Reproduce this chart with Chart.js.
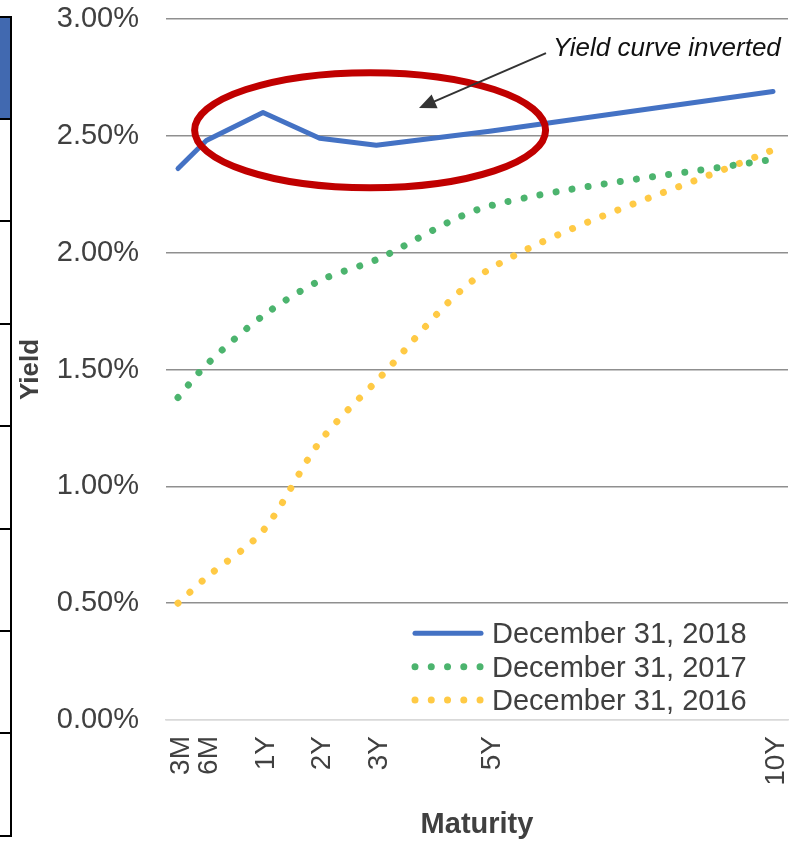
<!DOCTYPE html>
<html>
<head>
<meta charset="utf-8">
<script src="https://cdn.jsdelivr.net/npm/chart.js@4.4.1/dist/chart.umd.min.js"></script>
<style>
  html, body { margin: 0; padding: 0; background: #fff; }
  #wrap { position: relative; width: 798px; height: 842px; overflow: hidden; }
  #yc { position: absolute; left: 0; top: 0; }
  /* edge of the neighbouring table */
  .tbl { position: absolute; left: -10px; top: 16px; width: 18px; height: 817px; border: 2px solid #000; }
  .tbl .head { position: absolute; left: 0; top: 0; width: 100%; height: 101px; background: #4169b0; }
  .tbl .row { position: absolute; left: 0; width: 100%; height: 2px; background: #000; }
</style>
</head>
<body>
<div id="wrap">
  <canvas id="yc" width="798" height="842"></canvas>
  <div class="tbl">
    <div class="head"></div>
    <div class="row" style="top:100px"></div>
    <div class="row" style="top:202px"></div>
    <div class="row" style="top:305px"></div>
    <div class="row" style="top:407px"></div>
    <div class="row" style="top:510px"></div>
    <div class="row" style="top:612px"></div>
    <div class="row" style="top:714px"></div>
  </div>
</div>
<script>
// Treasury yield curves (%), by maturity
const maturityLabels = ['3M', '6M', '1Y', '2Y', '3Y', '5Y', '10Y'];
const maturityPos = [0, 0.5, 1.5, 2.5, 3.5, 5.5, 10.5];
const yield2018 = [2.36, 2.48, 2.60, 2.49, 2.46, 2.52, 2.69];
const yield2017 = [1.38, 1.52, 1.73, 1.88, 1.97, 2.20, 2.40];
const yield2016 = [0.50, 0.61, 0.81, 1.19, 1.45, 1.93, 2.44];
const seriesNames = ['December 31, 2018', 'December 31, 2017', 'December 31, 2016'];
const yTicks = [0, 0.5, 1, 1.5, 2, 2.5, 3];

// callout around the inverted stretch, in axis units
const ring = { x: 3.39, y: 2.524, rx: 3.097, ry: 0.2464 };
const note = { text: 'Yield curve inverted', x: 6.617, y: 2.843 };
const pointer = { fromX: 6.494, fromY: 2.854, toX: 4.253, toY: 2.619 };

const FONT = '"Liberation Sans", Arial, Helvetica, sans-serif';
const INK = '#404040';
const BLUE = '#4472c4', GREEN = '#4cb46e', GOLD = '#ffca45';

const toPoints = ys => ys.map((v, i) => ({ x: maturityPos[i], y: v }));

const overlay = {
  id: 'overlay',
  afterDatasetsDraw(chart) {
    const { ctx, scales: { x, y } } = chart;
    ctx.save();
    // red ring
    const cx = x.getPixelForValue(ring.x), cy = y.getPixelForValue(ring.y);
    const rx = x.getPixelForValue(ring.x + ring.rx) - cx;
    const ry = cy - y.getPixelForValue(ring.y + ring.ry);
    ctx.beginPath();
    ctx.ellipse(cx, cy, rx, ry, 0, 0, Math.PI * 2);
    ctx.strokeStyle = '#c00000';
    ctx.lineWidth = 7;
    ctx.stroke();

    // arrow
    const ax = x.getPixelForValue(pointer.fromX), ay = y.getPixelForValue(pointer.fromY);
    const bx = x.getPixelForValue(pointer.toX), by = y.getPixelForValue(pointer.toY);
    const len = Math.hypot(bx - ax, by - ay);
    const ux = (bx - ax) / len, uy = (by - ay) / len;
    const headL = 17, headW = 7.5;
    const hx = bx - ux * headL, hy = by - uy * headL;
    ctx.strokeStyle = '#333';
    ctx.fillStyle = '#333';
    ctx.lineWidth = 2;
    ctx.beginPath();
    ctx.moveTo(ax, ay);
    ctx.lineTo(hx + ux * 2, hy + uy * 2);
    ctx.stroke();
    ctx.beginPath();
    ctx.moveTo(bx, by);
    ctx.lineTo(hx - uy * headW, hy + ux * headW);
    ctx.lineTo(hx + uy * headW, hy - ux * headW);
    ctx.closePath();
    ctx.fill();

    // label
    ctx.font = 'italic 26px ' + FONT;
    ctx.fillStyle = '#111';
    ctx.textAlign = 'left';
    ctx.textBaseline = 'alphabetic';
    ctx.fillText(note.text, x.getPixelForValue(note.x), y.getPixelForValue(note.y));
    ctx.restore();
  },
  afterDraw(chart) {
    // legend inside the plot, lower right
    const { ctx, chartArea } = chart;
    const x0 = chartArea.left + 249, x1 = chartArea.left + 315, tx = chartArea.left + 326;
    const base = chartArea.bottom - 76.7;
    chart.data.datasets.forEach((ds, i) => {
      const by = base + i * 33.35;
      const ly = by - 10;
      ctx.save();
      ctx.strokeStyle = ds.borderColor;
      ctx.lineWidth = ds.borderWidth;
      ctx.lineCap = 'round';
      ctx.setLineDash(ds.borderDash || []);
      ctx.beginPath();
      ctx.moveTo(x0, ly);
      ctx.lineTo(x1, ly);
      ctx.stroke();
      ctx.restore();
      ctx.save();
      ctx.font = '29px ' + FONT;
      ctx.fillStyle = INK;
      ctx.textAlign = 'left';
      ctx.textBaseline = 'alphabetic';
      ctx.fillText(ds.label, tx, by);
      ctx.restore();
    });
  }
};

new Chart(document.getElementById('yc'), {
  type: 'line',
  data: {
    datasets: [
      { label: seriesNames[0], data: toPoints(yield2018), borderColor: BLUE, borderWidth: 5,
        borderCapStyle: 'round', borderJoinStyle: 'round', tension: 0, pointRadius: 0, fill: false },
      { label: seriesNames[1], data: toPoints(yield2017), borderColor: GREEN, borderWidth: 7,
        borderDash: [0.01, 16.25], borderCapStyle: 'round', tension: 0.3, pointRadius: 0, fill: false },
      { label: seriesNames[2], data: toPoints(yield2016), borderColor: GOLD, borderWidth: 7,
        borderDash: [0.01, 16.25], borderCapStyle: 'round', tension: 0.3, pointRadius: 0, fill: false }
    ]
  },
  options: {
    responsive: false,
    animation: false,
    devicePixelRatio: 1,
    layout: { padding: { top: 19, right: 10, left: 0, bottom: 0 } },
    plugins: { legend: { display: false }, tooltip: { enabled: false } },
    scales: {
      x: {
        type: 'linear',
        min: -0.212,
        max: 10.765,
        afterBuildTicks: s => { s.ticks = maturityPos.map(v => ({ value: v })); },
        afterFit: s => { s.height = 122; s.paddingLeft = 0; s.paddingRight = 0; s.paddingTop = 0; s.paddingBottom = 0; },
        grid: { display: false, drawTicks: false },
        border: { display: true, color: '#d9d9d9', width: 1.5 },
        ticks: {
          autoSkip: false, minRotation: 90, maxRotation: 90, padding: 16, labelOffset: 3,
          color: INK, font: { family: FONT, size: 28 },
          callback: v => maturityLabels[maturityPos.indexOf(v)]
        },
        title: { display: true, text: 'Maturity', color: INK,
          font: { family: FONT, size: 29, weight: 'bold' }, padding: { top: 0, bottom: 0 } }
      },
      y: {
        min: 0,
        max: 3,
        afterBuildTicks: s => { s.ticks = yTicks.map(v => ({ value: v })); },
        afterFit: s => { s.width = 166; s.paddingTop = 0; s.paddingBottom = 0; s.paddingLeft = 0; s.paddingRight = 0; },
        grid: { color: c => (c.tick && c.tick.value === 0 ? '#d9d9d9' : '#8f8f8f'), lineWidth: 1.5, drawTicks: false },
        border: { display: false },
        ticks: { padding: 27, color: INK, font: { family: FONT, size: 29 },
          callback: v => v.toFixed(2) + '%' },
        title: { display: true, text: 'Yield', color: INK,
          font: { family: FONT, size: 26, weight: 'bold' }, padding: { top: 15, bottom: 0 } }
      }
    }
  },
  plugins: [overlay]
});
</script>
</body>
</html>
